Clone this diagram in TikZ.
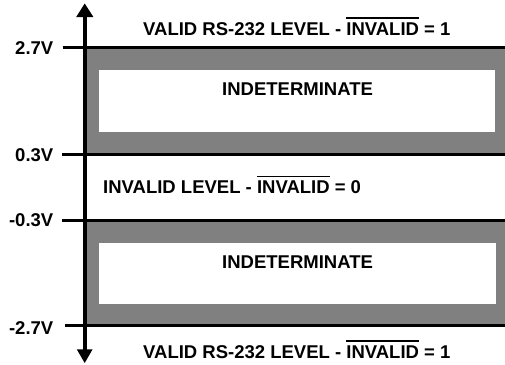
\documentclass[tikz,border=0pt]{standalone}
\usepackage{fontspec}
\setmainfont{Liberation Sans}
\definecolor{band}{RGB}{128,128,128}
\newcommand\ovbar[1]{\leavevmode\vbox{\hrule height 1.2pt\kern 3.6pt\hbox{#1}}}
\tikzset{
  lbl/.style={inner sep=0pt, font=\fontsize{18.5}{22}\selectfont\bfseries},
  level/.style={line width=3.4pt},
  bandfill/.style={fill=band, draw=none},
  hole/.style={fill=white, draw=none},
  axisfill/.style={fill=black, draw=none}
}
\begin{document}
\begin{tikzpicture}[x=1pt,y=-1pt]
\useasboundingbox (0,0) rectangle (505,364);
% bands
\fill[bandfill] (86,47.3) rectangle (505,154.3);
\fill[hole] (99,70) rectangle (495,131.7);
\fill[bandfill] (86,220.5) rectangle (505,325.7);
\fill[hole] (99,242.7) rectangle (496,304);
% level lines
\coordinate (l1a) at (62.7,47.3);  \coordinate (l1b) at (505,47.3);
\coordinate (l2a) at (62,154.3);   \coordinate (l2b) at (505,154.3);
\coordinate (l3a) at (62,220.5);   \coordinate (l3b) at (505,220.5);
\coordinate (l4a) at (65,325.7);   \coordinate (l4b) at (505,325.7);
\draw[level] (l1a) -- (l1b);
\draw[level] (l2a) -- (l2b);
\draw[level] (l3a) -- (l3b);
\draw[level] (l4a) -- (l4b);
% axis
\coordinate (top) at (84.7,3.5);
\coordinate (bot) at (84.7,363);
\fill[axisfill] (82.5,16) rectangle (86.9,350);
\fill[axisfill] (top) -- (93.4,17) -- (76.2,17) -- cycle;
\fill[axisfill] (bot) -- (92.6,349.3) -- (76.8,349.3) -- cycle;
% voltage labels
\node[lbl, anchor=base east] (v1) at (53.5,54) {2.7V};
\node[lbl, anchor=base east] (v2) at (53.5,161.7) {0.3V};
\node[lbl, anchor=base east] (v3) at (53.5,226.7) {-0.3V};
\node[lbl, anchor=base east] (v4) at (53.5,334) {-2.7V};
% region texts
\node[lbl, anchor=base west] (t1) at (143,35) {VALID RS-232 LEVEL - \ovbar{INVALID} = 1};
\node[lbl, anchor=base west] (t2) at (222,95) {INDETERMINATE};
\node[lbl, anchor=base west] (t3) at (103,193.3) {INVALID LEVEL - \ovbar{INVALID} = 0};
\node[lbl, anchor=base west] (t4) at (222,268) {INDETERMINATE};
\node[lbl, anchor=base west] (t5) at (143,358) {VALID RS-232 LEVEL - \ovbar{INVALID} = 1};
\end{tikzpicture}
\end{document}
